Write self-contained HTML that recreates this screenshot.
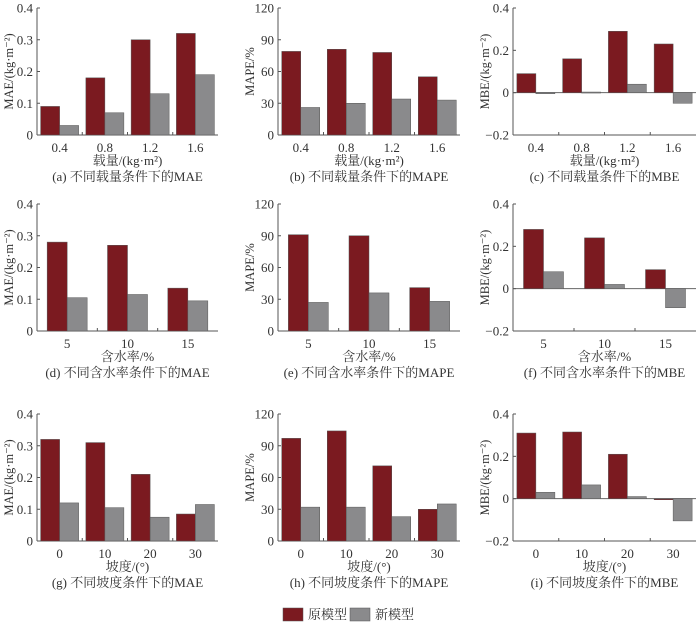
<!DOCTYPE html>
<html><head><meta charset="utf-8"><style>
body{margin:0;background:#fff;width:700px;height:628px;overflow:hidden}
svg text{font-family:"Liberation Serif","Noto Serif CJK SC",serif;fill:#333}
</style></head><body>
<svg id="s" width="700" height="628" xmlns="http://www.w3.org/2000/svg"></svg>
<script>
const S=document.getElementById('s');let h='';
const cols=[{x0:37,x1:218},{x0:278,x1:460},{x0:513,x1:696}];
const rowOff=[0,196,406];
const panels=[
 // row 0
 {t:'MAE',cats:['0.4','0.8','1.2','1.6'],r:[0.09,0.18,0.30,0.32],g:[0.03,0.07,0.13,0.19],xl:'载量/(kg·m²)',cap:'(a) 不同载量条件下的MAE'},
 {t:'MAPE',cats:['0.4','0.8','1.2','1.6'],r:[79,81,78,55],g:[26,30,34,33],xl:'载量/(kg·m²)',cap:'(b) 不同载量条件下的MAPE'},
 {t:'MBE',cats:['0.4','0.8','1.2','1.6'],r:[0.09,0.16,0.29,0.23],g:[-0.005,0.003,0.04,-0.05],xl:'载量/(kg·m²)',cap:'(c) 不同载量条件下的MBE'},
 {t:'MAE',cats:['5','10','15'],r:[0.28,0.27,0.135],g:[0.105,0.115,0.095],xl:'含水率/%',cap:'(d) 不同含水率条件下的MAE'},
 {t:'MAPE',cats:['5','10','15'],r:[91,90,41],g:[27,36,28],xl:'含水率/%',cap:'(e) 不同含水率条件下的MAPE'},
 {t:'MBE',cats:['5','10','15'],r:[0.28,0.24,0.09],g:[0.08,0.02,-0.09],xl:'含水率/%',cap:'(f) 不同含水率条件下的MBE'},
 {t:'MAE',cats:['0','10','20','30'],r:[0.32,0.31,0.21,0.085],g:[0.12,0.105,0.075,0.115],xl:'坡度/(°)',cap:'(g) 不同坡度条件下的MAE'},
 {t:'MAPE',cats:['0','10','20','30'],r:[97,104,71,30],g:[32,32,23,35],xl:'坡度/(°)',cap:'(h) 不同坡度条件下的MAPE'},
 {t:'MBE',cats:['0','10','20','30'],r:[0.31,0.315,0.21,-0.005],g:[0.03,0.065,0.01,-0.105],xl:'坡度/(°)',cap:'(i) 不同坡度条件下的MBE'}
];
panels.forEach((p,i)=>{
 const c=cols[i%3],o=rowOff[Math.floor(i/3)];
 const top=8+o,bot=135+o;
 let min,max,ticks,fmt,yl;
 if(p.t=='MAE'){min=0;max=0.4;ticks=[0,0.1,0.2,0.3,0.4];yl='MAE/(kg·m⁻²)';}
 else if(p.t=='MAPE'){min=0;max=120;ticks=[0,30,60,90,120];yl='MAPE/%';}
 else {min=-0.2;max=0.4;ticks=[-0.2,0,0.2,0.4];yl='MBE/(kg·m⁻²)';}
 const Y=v=>bot-(v-min)/(max-min)*(bot-top);
 const z=Y(0);
 // axes
 h+=`<line x1="${c.x0}" y1="${top}" x2="${c.x0}" y2="${bot}" stroke="#555" stroke-width="1"/>`;
 h+=`<line x1="${c.x0}" y1="${bot}" x2="${c.x1}" y2="${bot}" stroke="#555" stroke-width="1"/>`;
 if(min<0)h+=`<line x1="${c.x0}" y1="${z}" x2="${c.x1}" y2="${z}" stroke="#666" stroke-width="1"/>`;
 ticks.forEach(t=>{const y=Y(t);
  h+=`<line x1="${c.x0}" y1="${y}" x2="${c.x0+3}" y2="${y}" stroke="#555"/>`;
  let s=p.t=='MAPE'?String(t):(t==0?'0':(t<0?'−'+Math.abs(t).toFixed(1):t.toFixed(1)));
  h+=`<text x="${c.x0-4}" y="${y+4.5}" font-size="13" text-anchor="end">${s}</text>`;});
 const n=p.cats.length,gw=(c.x1-c.x0)/n,bw=n==4?19:20;
 for(let k=1;k<n;k++){const x=c.x0+gw*k;h+=`<line x1="${x}" y1="${bot}" x2="${x}" y2="${bot-3}" stroke="#555"/>`;}
 p.cats.forEach((cat,k)=>{
  const gx=c.x0+gw*k,bx=gx+(gw-2*bw)/2;
  [[p.r[k],'#7b1a20'],[p.g[k],'#8a8a8c']].forEach(([v,col],j)=>{
   const y1=Math.min(Y(v),z),y2=Math.max(Y(v),z);
   h+=`<rect x="${bx+j*bw}" y="${y1}" width="${bw}" height="${Math.max(y2-y1,1)}" fill="${col}" stroke="#555" stroke-width="0.5"/>`;});
  h+=`<text x="${gx+gw/2}" y="${bot+17}" font-size="13" text-anchor="middle">${cat}</text>`;
 });
 const cx=(c.x0+c.x1)/2;
 h+=`<text x="${cx}" y="${bot+30}" font-size="13" text-anchor="middle">${p.xl}</text>`;
 h+=`<text x="${cx}" y="${bot+46}" font-size="13" text-anchor="middle">${p.cap}</text>`;
 const ly=(top+bot)/2;
 h+=`<text transform="translate(${c.x0-24},${ly}) rotate(-90)" font-size="12.5" text-anchor="middle">${yl}</text>`;
});
h+=`<rect x="283" y="608" width="20" height="13" fill="#7b1a20" stroke="#555" stroke-width="0.5"/><text x="308" y="619" font-size="13">原模型</text>`;
h+=`<rect x="350" y="608" width="20" height="13" fill="#8a8a8c" stroke="#555" stroke-width="0.5"/><text x="375" y="619" font-size="13">新模型</text>`;
S.innerHTML=h;
</script>
</body></html>
